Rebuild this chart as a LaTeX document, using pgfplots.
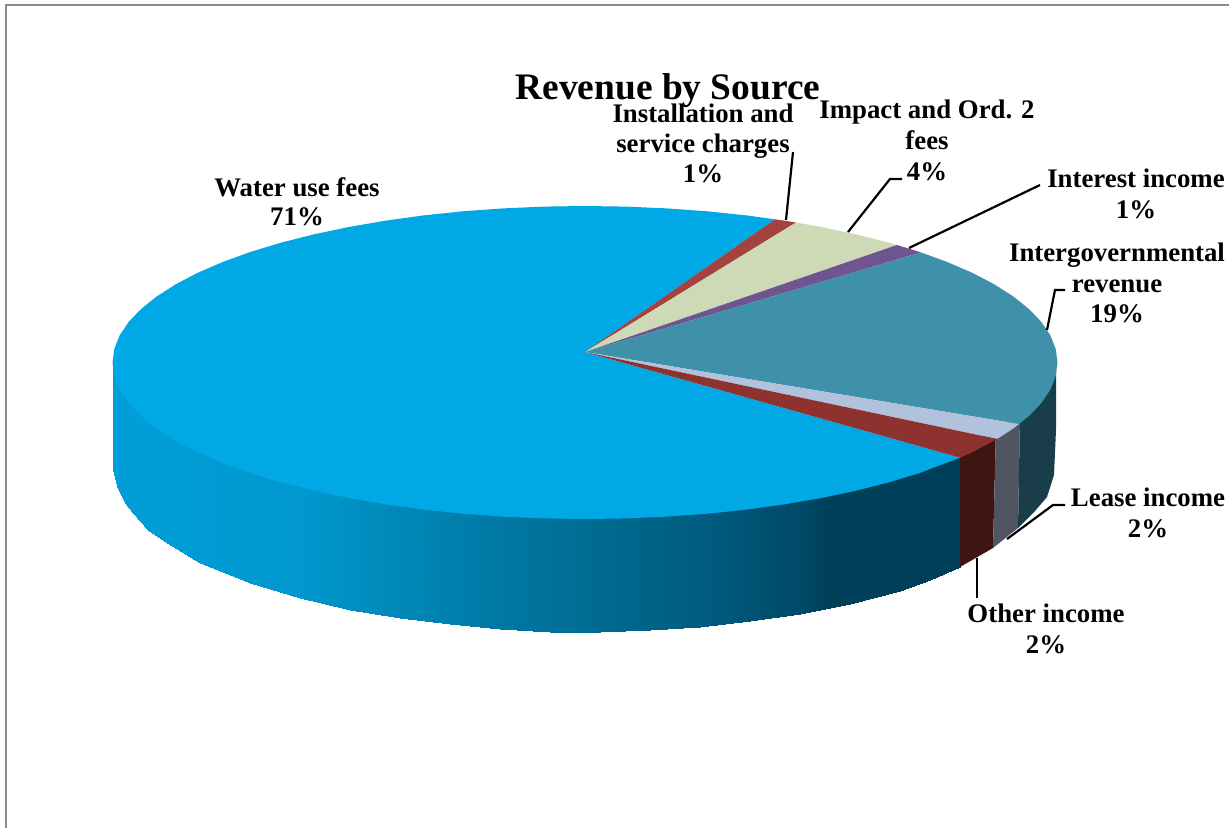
\documentclass[border=0pt]{standalone}
\usepackage{pgfplots}
\pgfplotsset{compat=1.18}
\usepackage{pgfplotstable}
\usepackage{fontspec}
\setmainfont{Liberation Serif}
\definecolor{cWater}{RGB}{0,168,230}
\definecolor{cInst}{RGB}{163,66,62}
\definecolor{cImp}{RGB}{206,218,181}
\definecolor{cInt}{RGB}{110,85,144}
\definecolor{cGov}{RGB}{63,145,169}
\definecolor{cLease}{RGB}{176,194,220}
\definecolor{cOther}{RGB}{142,50,48}
\definecolor{sOther}{RGB}{62,21,19}
\definecolor{sLease}{RGB}{79,86,97}
\definecolor{sGov}{RGB}{25,61,73}
\definecolor{frameC}{RGB}{140,140,140}
\pgfplotstableread{
x y c
113 362 113
117 375 117
125 385 125
133 400 133
148 420 148
167 430 167
200 450 200
250 470 250
300 485 300
350 495 350
400 505 400
450 510 450
500 512 500
550 515 550
600 515 600
650 515 650
700 510 700
750 505 750
800 497 800
850 485 850
900 475 900
930 463 930
960 457 960
113 470 113
117 486 117
125 503 125
133 513 133
148 530 148
167 543 167
200 563 200
250 583 250
300 598 300
350 610 350
400 618 400
450 624 450
500 629 500
550 632 550
600 632 600
650 630 650
700 627 700
750 621 750
800 614 800
850 604 850
900 591 900
930 580 930
960 567 960
}\waterside
\newcommand{\lab}[3]{\node[anchor=base,inner sep=0pt,font=\fontsize{26.8}{26.8}\selectfont\bfseries] at (axis cs:#1,#2) {#3};}
\begin{document}
\begin{tikzpicture}
\begin{axis}[
  scale only axis, width=1229pt, height=828pt,
  xmin=0, xmax=1229, ymin=0, ymax=828, y dir=reverse,
  hide axis,
  point meta min=113, point meta max=960,
  colormap={water}{rgb255(113)=(0,158,216) rgb255(300)=(0,152,206) rgb255(400)=(0,136,184) rgb255(500)=(0,120,164) rgb255(600)=(0,106,144) rgb255(700)=(0,92,128) rgb255(800)=(0,74,104) rgb255(830)=(0,64,88) rgb255(960)=(0,63,89)},
]
\path (axis cs:0,0) rectangle (axis cs:1229,828);
% frame
\addplot[frameC,line width=2.5pt] coordinates {(6,828) (6,5) (1229,5)};
% side faces
\addplot[surf,shader=interp,mesh/rows=2,point meta=explicit] table[x=x,y=y,meta=c] {\waterside};
\addplot[fill=sOther,draw=none] coordinates {(960,450) (960,567) (993,548) (996,430)} --cycle;
\addplot[fill=sLease,draw=none] coordinates {(996,430) (993,548) (1018,528) (1020,415)} --cycle;
\addplot[fill=sGov,draw=none] coordinates {(1020,415) (1018,528) (1035,511) (1047,497) (1054,475) (1056,430) (1056,370) (1040,360)} --cycle;
% top faces
\addplot[fill=cWater,draw=none] coordinates {(585,352) (960,457.7) (919.1,473.2) (888.7,482.4) (856.0,490.7) (821.25,498) (784.7,504.3) (746.6,509.6) (707.3,513.7) (667,516.6) (626.2,518.4) (585,519) (543.8,518.4) (503,516.6) (462.7,513.7) (423.4,509.6) (385.3,504.3) (348.75,498) (314.0,490.7) (281.3,482.4) (250.9,473.2) (223,463.1) (197.9,452.3) (175.8,440.75) (156.8,428.6) (141,416) (128.6,403.0) (119.7,389.7) (114.3,376.1) (112.5,362.5) (114.3,348.9) (119.7,335.3) (128.6,322.0) (141,309) (156.8,296.4) (175.8,284.25) (197.9,272.7) (223,261.9) (250.9,251.8) (281.3,242.6) (314.0,234.3) (348.75,227) (385.3,220.7) (423.4,215.4) (462.7,211.3) (503,208.4) (543.8,206.6) (585,206) (626.2,206.6) (667,208.4) (707.3,211.3) (746.6,215.4) (775,219.3)} --cycle;
\addplot[fill=cInst,draw=none] coordinates {(585,352) (775,219.3) (784.7,220.7) (796,222.5)} --cycle;
\addplot[fill=cImp,draw=none] coordinates {(585,352) (796,222.5) (821.25,227) (856.0,234.3) (888.7,242.6) (897,245)} --cycle;
\addplot[fill=cInt,draw=none] coordinates {(585,352) (897,245) (919.1,251.8) (921,252.4)} --cycle;
\addplot[fill=cGov,draw=none] coordinates {(585,352) (921,252.4) (947,261.9) (972.1,272.7) (994.2,284.25) (1013.2,296.4) (1029,309) (1041.4,322.0) (1050.3,335.3) (1055.7,348.9) (1057.5,362.5) (1055.7,376.1) (1050.3,389.7) (1041.4,403.0) (1029,416) (1019,424)} --cycle;
\addplot[fill=cLease,draw=none] coordinates {(585,352) (1019,424) (1013.2,428.6) (997,439)} --cycle;
\addplot[fill=cOther,draw=none] coordinates {(585,352) (997,439) (972.1,452.3) (960,457.7)} --cycle;
% leaders
\addplot[black,line width=2.2pt] coordinates {(793,152) (786,220)};
\addplot[black,line width=2.2pt] coordinates {(902,179) (890,179) (848,232)};
\addplot[black,line width=2.2pt] coordinates {(1040,185) (909,248)};
\addplot[black,line width=2.2pt] coordinates {(1065,290) (1055,290) (1047,330)};
\addplot[black,line width=2.2pt] coordinates {(1065,505) (1053,505) (1007,539)};
\addplot[black,line width=2.8pt] coordinates {(977,558) (977,598)};
% text
\node[anchor=base,inner sep=0pt,font=\fontsize{37.4}{37.4}\selectfont\bfseries] at (axis cs:668,99) {Revenue by Source};
\lab{297}{196}{Water use fees}
\lab{297}{225}{71\%}
\lab{703}{122}{Installation and}
\lab{703}{152}{service charges}
\lab{703}{182}{1\%}
\lab{927}{118}{Impact and Ord. 2}
\lab{927}{149}{fees}
\lab{927}{180}{4\%}
\lab{1136}{187}{Interest income}
\lab{1136}{218}{1\%}
\lab{1117}{261}{Intergovernmental}
\lab{1117}{292}{revenue}
\lab{1117}{322}{19\%}
\lab{1148}{506}{Lease income}
\lab{1148}{537}{2\%}
\lab{1046}{622}{Other income}
\lab{1046}{653}{2\%}
\end{axis}
\end{tikzpicture}
\end{document}
